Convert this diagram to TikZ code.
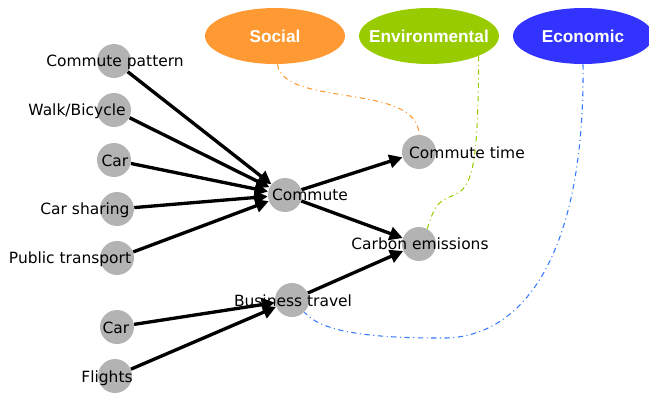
\documentclass[tikz,border=0pt]{standalone}
\usepackage{fontspec}
\setmainfont{DejaVu Sans}
\newfontfamily\headfont{Liberation Sans}
\usetikzlibrary{arrows.meta}
\usetikzlibrary{shapes.geometric}
\definecolor{socialc}{HTML}{FF9933}
\definecolor{envc}{HTML}{99CC00}
\definecolor{econc}{HTML}{3333FF}
\definecolor{econline}{HTML}{3377FF}
\definecolor{dotgray}{HTML}{B3B3B3}

\begin{document}
\begin{tikzpicture}[x=0.02cm, y=-0.02cm]
				\useasboundingbox (0,0) rectangle (649,397);
				% the three pillars
				\begin{scope}[every node/.style = {ellipse, minimum width=2.8cm, minimum height=1.12cm, inner sep=0pt},
					every label/.append style = {text=white, inner sep=0pt,
						font=\headfont\bfseries\fontsize{9.8}{11}\selectfont}]
					\node[fill=socialc, label=center:Social] (soc) at (275,36) {};
					\node[fill=envc, label=center:Environmental] (env) at (429,36) {};
					\node[fill=econc, label=center:Economic] (eco) at (583,36) {};
				\end{scope}
				\begin{scope}[every node/.style = {circle, fill=dotgray, minimum size=0.68cm, inner sep=0pt}]
					\node (cp) at (114,61) {};
					\node (wb) at (114,110) {};
					\node (car) at (114,160) {};
					\node (cs) at (117,209) {};
					\node (pt) at (117,258) {};
					\node (com) at (285,195) {};
					\node (ct) at (419,152) {};
					\node (ce) at (419,244) {};
					\node (bt) at (292,300) {};
					\node (bcar) at (117,327) {};
					\node (fl) at (115,376) {};
				\end{scope}
				\begin{scope}[every node/.style = {inner sep=0pt, text=black,
						font=\fontsize{8.8}{10}\selectfont}]
					\node (cp-l) at (115,62) {Commute pattern};
					\node (wb-l) at (77,111) {Walk/Bicycle};
					\node (car-l) at (115,161) {Car};
					\node (cs-l) at (85,210) {Car sharing};
					\node (pt-l) at (70,259) {Public transport};
					\node (com-l) at (310,195) {Commute};
					\node (ct-l) at (467,153) {Commute time};
					\node (ce-l) at (420,244) {Carbon emissions};
					\node (bt-l) at (293,301) {Business travel};
					\node (bcar-l) at (116,328) {Car};
					\node (fl-l) at (107,378) {Flights};
				\end{scope}
				\begin{scope}[>={Triangle[length=7.5pt, width=7.5pt]},
						every edge/.style={draw=black, line width=1.9pt}]
					\path [->] (cp) edge (com);
					\path [->] (wb) edge (com);
					\path [->] (car) edge (com);
					\path [->] (cs) edge (com);
					\path [->] (pt) edge (com);
					\path [->] (com) edge (ct);
					\path [->] (com) edge (ce);
					\path [->] (bcar) edge (bt);
					\path [->] (fl) edge (bt);
					\path [->] (bt) edge (ce);
				\end{scope}
				% links to the pillars
				\begin{scope}[line width=0.6pt, dash dot]
					\draw[socialc] (soc.-85) .. controls (284,108) and (418,82) .. (ct.north);
					\draw[envc] (env.-22) .. controls (478,150) and (475,186) .. (456,194)
						.. controls (436,203) .. (ce.62);
					\draw[econline] (eco.south) .. controls (585,260) and (520,340) .. (440,338)
						.. controls (360,338) and (320,330) .. (bt.-45);
				\end{scope}
			\end{tikzpicture}
\end{document}
